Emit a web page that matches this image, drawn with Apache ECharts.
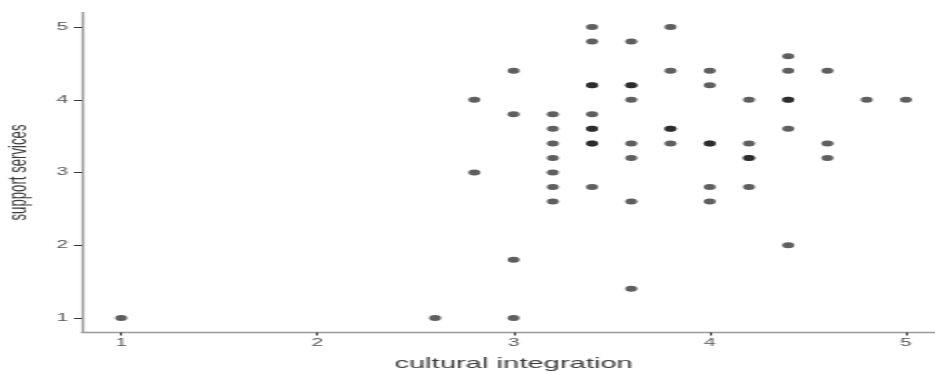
<!DOCTYPE html>
<html>
<head>
<meta charset="utf-8">
<script src="https://cdn.jsdelivr.net/npm/echarts@6/dist/echarts.min.js"></script>
<style>
html,body{margin:0;padding:0;background:#fff;overflow:hidden;width:935px;height:372px;}
#chart{width:467.5px;height:372px;transform:scaleX(2);transform-origin:0 0;}
</style>
</head>
<body>
<div id="chart"></div>
<script>
const xTitle = 'cultural integration';
const yTitle = 'support services';
const xTicks = [1, 2, 3, 4, 5];
const yTicks = [1, 2, 3, 4, 5];
const culturalIntegration = [
  1, 2.6, 2.8, 2.8, 3.0, 3.0, 3.0, 3.0,
  3.2, 3.2, 3.2, 3.2, 3.2, 3.2, 3.2,
  3.4, 3.4, 3.4, 3.4, 3.4, 3.4, 3.4, 3.4, 3.4, 3.4,
  3.6, 3.6, 3.6, 3.6, 3.6, 3.6, 3.6, 3.6,
  3.8, 3.8, 3.8, 3.8, 3.8,
  4.0, 4.0, 4.0, 4.0, 4.0, 4.0,
  4.2, 4.2, 4.2, 4.2, 4.2,
  4.4, 4.4, 4.4, 4.4, 4.4, 4.4,
  4.6, 4.6, 4.6, 4.8, 5.0
];
const supportServices = [
  1, 1, 4, 3, 4.4, 3.8, 1.8, 1,
  3.8, 3.6, 3.4, 3.2, 3.0, 2.8, 2.6,
  5, 4.8, 4.2, 4.2, 3.8, 3.6, 3.6, 3.4, 3.4, 2.8,
  4.8, 4.2, 4.2, 4.0, 3.4, 3.2, 2.6, 1.4,
  5, 4.4, 3.6, 3.6, 3.4,
  4.4, 4.2, 3.4, 3.4, 2.8, 2.6,
  4.0, 3.4, 3.2, 3.2, 2.8,
  4.6, 4.4, 4.0, 4.0, 3.6, 2.0,
  4.4, 3.4, 3.2, 4.0, 4.0
];
const points = culturalIntegration.map((x, i) => [x, supportServices[i]]);

const chart = echarts.init(document.getElementById('chart'), null, {renderer: 'canvas'});
const axisCommon = {
  type: 'value',
  min: 0.8,
  max: 5.2,
  splitLine: {show: false},
  axisLine: {show: true, lineStyle: {color: '#9a9a9a', width: 1.3}},
  nameLocation: 'middle'
};
chart.setOption({
  animation: false,
  grid: {left: 41, right: -4.6, top: 12.5, bottom: 39.5, containLabel: false, outerBoundsMode: 'none'},
  xAxis: Object.assign({}, axisCommon, {
    name: xTitle,
    nameGap: 23.5,
    nameTextStyle: {color: '#3a3a3a', fontSize: 14.6, fontFamily: 'Liberation Sans'},
    axisTick: {show: true, length: 3, customValues: xTicks, lineStyle: {color: '#333', width: 1}},
    axisLabel: {color: '#555', fontSize: 10.5, fontFamily: 'Liberation Sans', margin: 5, customValues: xTicks}
  }),
  yAxis: Object.assign({}, axisCommon, {
    name: yTitle,
    nameGap: 25.5,
    nameRotate: 90,
    nameTextStyle: {color: '#3a3a3a', fontSize: 13.2, fontFamily: 'Liberation Sans'},
    axisTick: {show: true, length: 4, customValues: yTicks, lineStyle: {color: '#333', width: 1}},
    axisLabel: {color: '#555', fontSize: 10.5, fontFamily: 'Liberation Sans', margin: 7, customValues: yTicks}
  }),
  series: [{
    type: 'scatter',
    data: points,
    symbol: 'circle',
    symbolSize: 6,
    itemStyle: {color: 'rgba(20,20,20,0.85)'}
  }]
});
</script>
</body>
</html>
